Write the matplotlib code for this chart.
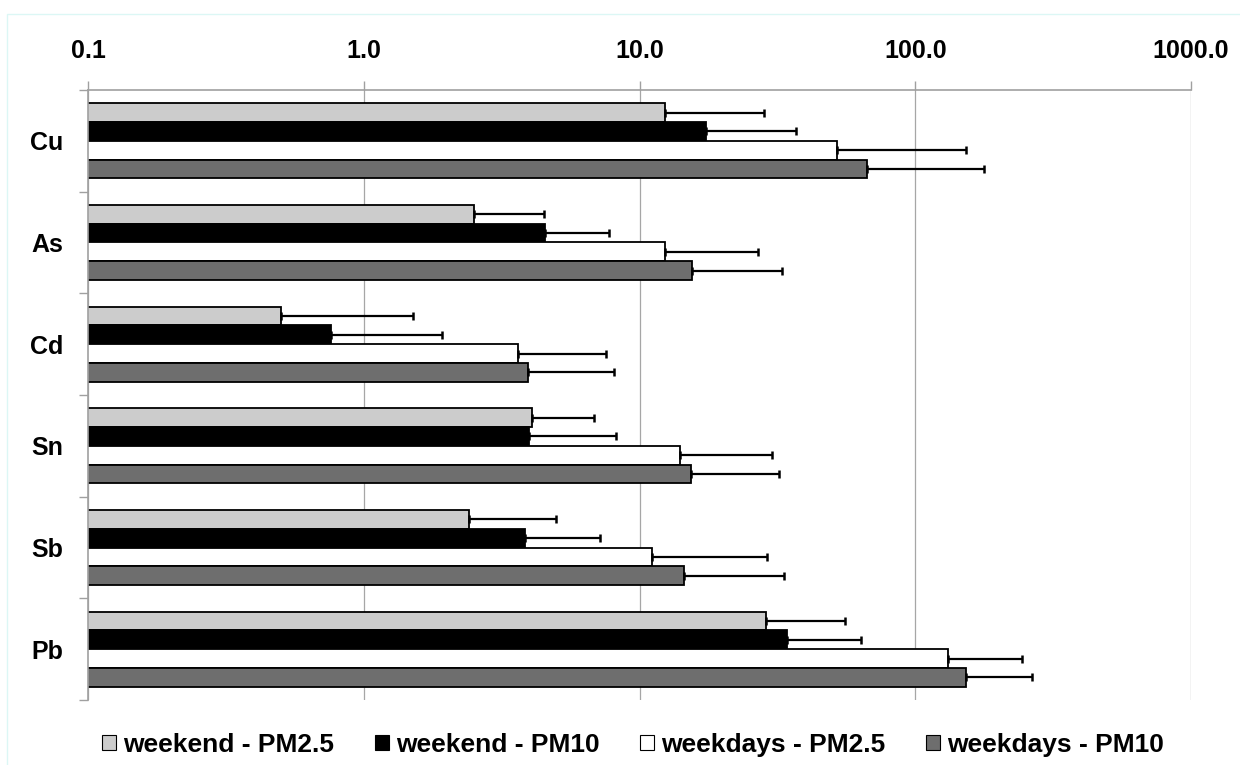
import matplotlib
matplotlib.use("Agg")
import matplotlib.pyplot as plt
import numpy as np
from matplotlib.patches import Rectangle

plt.rcParams['font.family'] = ['Liberation Sans', 'DejaVu Sans']

# Element concentrations (mean and standard deviation) per series
elements = ["Cu", "As", "Cd", "Sn", "Sb", "Pb"]
series_names = ["weekend - PM2.5", "weekend - PM10", "weekdays - PM2.5", "weekdays - PM10"]

weekend_pm25 = [12.4, 2.52, 0.50, 4.06, 2.41, 28.8]
weekend_pm10 = [17.4, 4.55, 0.76, 3.99, 3.83, 34.4]
weekdays_pm25 = [52.2, 12.4, 3.64, 14.0, 11.1, 131.0]
weekdays_pm10 = [67.0, 15.5, 3.93, 15.4, 14.5, 153.0]

weekend_pm25_sd = [15.9, 1.97, 1.01, 2.77, 2.57, 26.7]
weekend_pm10_sd = [19.5, 3.17, 1.17, 4.25, 3.36, 29.0]
weekdays_pm25_sd = [101.0, 14.5, 3.92, 16.3, 17.9, 112.0]
weekdays_pm10_sd = [110.6, 17.3, 4.14, 16.6, 18.8, 111.0]

tick_values = [0.1, 1, 10, 100, 1000]
tick_labels = ["0.1", "1.0", "10.0", "100.0", "1000.0"]

means = [weekend_pm25, weekend_pm10, weekdays_pm25, weekdays_pm10]
sds = [weekend_pm25_sd, weekend_pm10_sd, weekdays_pm25_sd, weekdays_pm10_sd]
colors = ["#cccccc", "#000000", "#ffffff", "#6e6e6e"]

W, H = 1240, 765
fig = plt.figure(figsize=(W / 100, H / 100), dpi=100)
fig.patch.set_facecolor("white")

# faint outer frame
fig.add_artist(Rectangle((7 / W, -0.05), 1.1, 1 - 14 / H + 0.05, transform=fig.transFigure,
                         fill=False, edgecolor="#dcf7f5", linewidth=1.0))

ax = fig.add_axes([88 / W, 1 - 700 / H, (1191 - 88) / W, (700 - 90) / H])

y = np.arange(len(elements))
h = 0.184
offsets = [-1.5 * h, -0.5 * h, 0.5 * h, 1.5 * h]

handles = []
for vals, err, col, off, name in zip(means, sds, colors, offsets, series_names):
    b = ax.barh(y + off, vals, height=h, color=col, edgecolor="black",
                linewidth=1.3, label=name, zorder=2, left=0)
    ax.errorbar(vals, y + off, xerr=[np.zeros(len(vals)), err], fmt="none",
                ecolor="black", elinewidth=1.6, capsize=2.6, capthick=1.8, zorder=3)
    handles.append(b)

ax.set_xscale("log")
ax.set_xlim(0.1, 1000)
ax.set_ylim(len(elements) - 0.5, -0.5)

ax.xaxis.tick_top()
ax.set_xticks(tick_values)
ax.set_xticklabels(tick_labels)
ax.xaxis.set_minor_locator(matplotlib.ticker.NullLocator())
ax.tick_params(axis="x", which="major", direction="out", length=6.5, width=1.0,
               color="#a0a0a0", pad=13, labelsize=18)
for t in ax.get_xticklabels():
    t.set_fontweight("bold")

# category boundaries carry the tick marks, names sit between them
ax.set_yticks(np.arange(len(elements) + 1) - 0.5)
ax.set_yticklabels([])
ax.set_yticks(y, minor=True)
ax.set_yticklabels(elements, minor=True)
ax.tick_params(axis="y", which="major", direction="out", length=6.5, width=1.0, color="#a0a0a0")
ax.tick_params(axis="y", which="minor", length=0, pad=18, labelsize=18)
for t in ax.get_yticklabels(minor=True):
    t.set_fontweight("bold")

ax.grid(axis="x", which="major", color="#a6a6a6", linewidth=0.9)
ax.set_axisbelow(True)

for s in ["right", "bottom"]:
    ax.spines[s].set_visible(False)
for s in ["top", "left"]:
    ax.spines[s].set_color("#a0a0a0")
    ax.spines[s].set_linewidth(1.2)

leg = fig.legend(handles, series_names, loc="center", bbox_to_anchor=(633 / W, 1 - 745 / H),
                 ncol=4, frameon=False, prop=dict(weight="bold", size=19),
                 handlelength=0.53, handleheight=0.53, handletextpad=0.27,
                 columnspacing=1.53, borderaxespad=0)
for p in leg.get_patches():
    p.set_linewidth(0.8)

fig.savefig("out.png", dpi=100)
